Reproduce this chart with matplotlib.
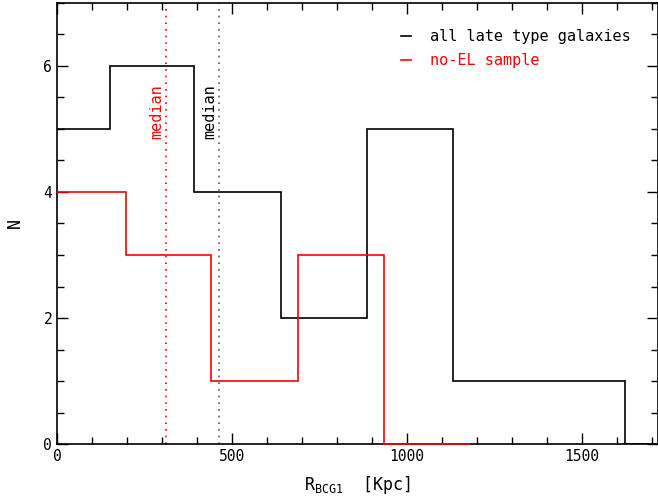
import matplotlib
matplotlib.use('Agg')
import matplotlib.pyplot as plt
from matplotlib.lines import Line2D
import matplotlib.ticker as mtick

# histogram of R_BCG1 distances
all_edges = [-95, 150, 392, 640, 886, 1131, 1377, 1623, 1870]
all_counts = [5, 6, 4, 2, 5, 1, 1, 0]
noel_edges = [0, 197, 440, 689, 934, 1180]
noel_counts = [4, 3, 1, 3, 0]
median_all = 463
median_noel = 312

plt.rcParams['font.family'] = 'DejaVu Sans Mono'
fig = plt.figure(figsize=(6.58, 4.97), dpi=100)
ax = fig.add_axes([57 / 658, 53 / 497, 601 / 658, 441 / 497])

ax.stairs(all_counts, all_edges, baseline=None, color='black', lw=1.2, zorder=3)
ax.stairs(noel_counts, noel_edges, baseline=None, color='red', lw=1.2, zorder=4,
          clip_on=False)

ax.axvline(median_noel, color='red', ls=(0, (1, 3)), lw=1.2)
ax.axvline(median_all, color='0.35', ls=(0, (1, 3)), lw=1.2)
ax.text(median_noel - 26, 5.27, 'median', color='red', rotation=90,
        ha='center', va='center', fontsize=11)
ax.text(median_all - 26, 5.27, 'median', color='black', rotation=90,
        ha='center', va='center', fontsize=11)

ax.set_xlim(0, 1717)
ax.set_ylim(0, 7)
ax.xaxis.set_major_locator(mtick.MultipleLocator(500))
ax.xaxis.set_minor_locator(mtick.MultipleLocator(100))
ax.yaxis.set_major_locator(mtick.MultipleLocator(2))
ax.yaxis.set_minor_locator(mtick.MultipleLocator(0.5))
ax.tick_params(which='both', direction='in', top=True, right=True,
               labelsize=10.5, width=1, colors='black')
ax.tick_params(which='major', length=8)
ax.tick_params(which='minor', length=5)
for s in ax.spines.values():
    s.set_linewidth(1.2)

ax.set_xlabel(r'R$_{\mathregular{BCG1}}$  [Kpc]', fontsize=12, labelpad=7)
ax.set_ylabel('N', fontsize=12, labelpad=14)

handles = [Line2D([], [], color='black', lw=1.2), Line2D([], [], color='red', lw=1.2)]
leg = ax.legend(handles, ['all late type galaxies', 'no-EL sample'], loc='upper left',
                bbox_to_anchor=(0.555, 0.965), frameon=False, handlelength=0.65,
                handletextpad=1.25, fontsize=11, labelspacing=0.6,
                borderaxespad=0.3)
leg.get_texts()[1].set_color('red')

fig.savefig('out.png', dpi=100)
